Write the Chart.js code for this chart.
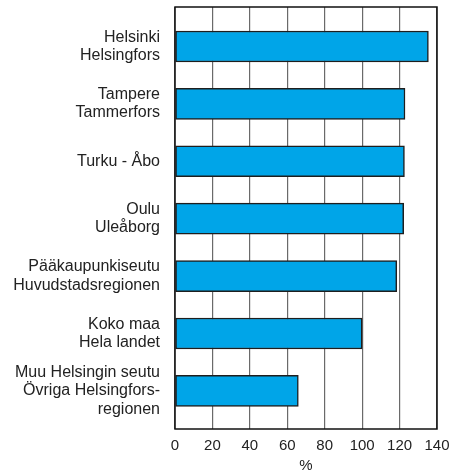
<!DOCTYPE html>
<html>
<head>
<meta charset="utf-8">
<script src="https://cdn.jsdelivr.net/npm/chart.js@4"></script>
<style>
  html, body { margin: 0; padding: 0; background: #fff; }
  #wrap { width: 451px; height: 475px; }
</style>
</head>
<body>
<div id="wrap"><canvas id="regionChart"></canvas></div>
<script>
// regions, top to bottom
const regions = [
    ["Helsinki", "Helsingfors"],
    ["Tampere", "Tammerfors"],
    ["Turku - Åbo"],
    ["Oulu", "Uleåborg"],
    ["Pääkaupunkiseutu", "Huvudstadsregionen"],
    ["Koko maa", "Hela landet"],
    ["Muu Helsingin seutu", "Övriga Helsingfors-", "regionen"]
];
const percent = [135.4, 122.9, 122.6, 122.2, 118.5, 100, 65.9];
const xTicks = [0, 20, 40, 60, 80, 100, 120, 140];

// black frame round the plot area
const frame = {
    id: "frame",
    afterDraw(chart) {
        const { ctx, chartArea: a } = chart;
        ctx.save();
        ctx.strokeStyle = "#111";
        ctx.lineWidth = 1.5;
        ctx.strokeRect(a.left, a.top, a.right - a.left, a.bottom - a.top);
        ctx.restore();
    }
};

new Chart(document.getElementById("regionChart"), {
    type: "bar",
    data: {
        datasets: [{
            data: percent.map((v, i) => ({ x: v, y: i })),
            backgroundColor: "#00a5e8",
            borderColor: "#1e1e1e",
            borderWidth: 1.5,
            borderSkipped: false,
            barThickness: 31
        }]
    },
    options: {
        indexAxis: "y",
        responsive: true,
        maintainAspectRatio: false,
        animation: false,
        layout: { padding: { left: 0, right: 14, top: 7, bottom: 0 } },
        plugins: { legend: { display: false }, tooltip: { enabled: false } },
        scales: {
            y: {
                type: "linear",
                offset: false,
                reverse: true,
                min: -0.688,
                max: 6.664,
                afterFit: (s) => { s.width = 175; s.paddingTop = 0; s.paddingBottom = 0; },
                grid: { display: false, drawTicks: false, offset: false },
                border: { display: false },
                ticks: {
                    stepSize: 1,
                    includeBounds: false,
                    autoSkip: false,
                    padding: 15,
                    color: "#222",
                    font: { family: "Liberation Sans, Arial, sans-serif", size: 16, lineHeight: 1.15 },
                    callback: (v) => Number.isInteger(v) ? regions[v] : ""
                }
            },
            x: {
                min: 0,
                max: 140,
                afterBuildTicks: (s) => { s.ticks = xTicks.map(v => ({ value: v })); },
                afterFit: (s) => { s.height = 46; s.paddingLeft = 0; s.paddingRight = 0; },
                grid: { color: "#6a6a6a", lineWidth: 1.2, drawTicks: false },
                border: { display: false },
                ticks: {
                    padding: 8,
                    maxRotation: 0,
                    color: "#222",
                    font: { family: "Liberation Sans, Arial, sans-serif", size: 15 }
                },
                title: {
                    display: true,
                    text: "%",
                    color: "#222",
                    padding: { top: 0, bottom: 0 },
                    font: { family: "Liberation Sans, Arial, sans-serif", size: 15 }
                }
            }
        }
    },
    plugins: [frame]
});
</script>
</body>
</html>
